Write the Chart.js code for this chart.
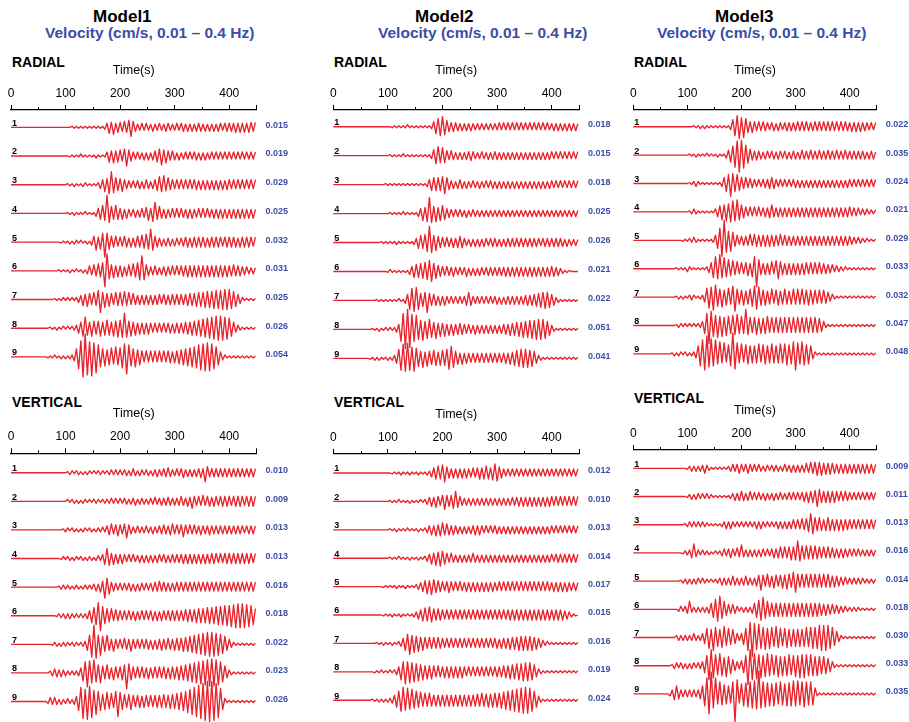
<!DOCTYPE html>
<html><head><meta charset="utf-8">
<script src="https://cdn.jsdelivr.net/npm/chart.js@4.4.1/dist/chart.umd.min.js"></script>
<style>
html,body{margin:0;padding:0;background:#fff;}
body{width:909px;height:722px;position:relative;overflow:hidden;font-family:"Liberation Sans",Arial,Helvetica,sans-serif;}
.t{position:absolute;white-space:nowrap;line-height:1;transform:translateY(-50%);}
.model{font-weight:bold;font-size:17px;color:#000;}
.vel{font-weight:bold;font-size:15.5px;color:#3b4ea6;}
.comp{font-weight:bold;font-size:14px;color:#000;}
canvas{position:absolute;display:block;}
</style></head><body>
<div class="t model" style="left:93px;top:16px">Model1</div>
<div class="t vel" style="left:45px;top:33px">Velocity (cm/s, 0.01 – 0.4 Hz)</div>
<div class="t model" style="left:415px;top:16px">Model2</div>
<div class="t vel" style="left:378px;top:33px">Velocity (cm/s, 0.01 – 0.4 Hz)</div>
<div class="t model" style="left:715px;top:16px">Model3</div>
<div class="t vel" style="left:657px;top:33px">Velocity (cm/s, 0.01 – 0.4 Hz)</div>
<div class="t comp" style="left:12px;top:61.5px">RADIAL</div>
<div class="t comp" style="left:334px;top:61.5px">RADIAL</div>
<div class="t comp" style="left:634px;top:61.5px">RADIAL</div>
<div class="t comp" style="left:12px;top:401.5px">VERTICAL</div>
<div class="t comp" style="left:334px;top:401.5px">VERTICAL</div>
<div class="t comp" style="left:634px;top:398px">VERTICAL</div>
<script>
// ---------------- DATA ----------------
// Seconds between successive waveform extrema
const STEP_S = 4;
// Trace numbers
const TRACE_LABELS = ['1','2','3','4','5','6','7','8','9'];
// Peak velocities printed at the right of each trace
const PEAKS_M1_RADIAL   = ['0.015','0.019','0.029','0.025','0.032','0.031','0.025','0.026','0.054'];
const PEAKS_M1_VERTICAL = ['0.010','0.009','0.013','0.013','0.016','0.018','0.022','0.023','0.026'];
const PEAKS_M2_RADIAL   = ['0.018','0.015','0.018','0.025','0.026','0.021','0.022','0.051','0.041'];
const PEAKS_M2_VERTICAL = ['0.012','0.010','0.013','0.014','0.017','0.015','0.016','0.019','0.024'];
const PEAKS_M3_RADIAL   = ['0.022','0.035','0.024','0.021','0.029','0.033','0.032','0.047','0.048'];
const PEAKS_M3_VERTICAL = ['0.009','0.011','0.013','0.016','0.014','0.018','0.030','0.033','0.035'];
// Waveform extrema magnitudes (base-36 digits, one every STEP_S seconds from t=0, alternating sign)
const WAVES_M1_RADIAL = [
 "0000000000000000000000000 0001111111111111112465745 5465796433434334334334433 3434434343444343434344344 4445454545545",
 "0000000000000000000000000 0011111211111121111465756 657a654343343434567967545 4343343434434343343434343 4343434343434",
 "0000000000000000000000000 011121112211111245769d876 6754434344345434568796755 4545454545545454545454545 5454545454545",
 "0000000000000000000000000 0111211112111135687i97686 5645434434546758b67545445 4545445454454545445454545 4545454545454",
 "0000000000000000000000011 112122121121368579f976564 54654545657687d8654434443 4434455455555554555555455 5555455555545",
 "0000000000000000000000111 112112112135465768gh86756 5645657689f96544543445445 4545556565656565656565656 5565554443333",
 "0000000000000000000011112 1212123465765769d78676576 7686756545454545455455455 5555556666777788889999aaa a987542111111",
 "0000000000000000001112112 121223568b768767867876879 89f9786756565654545454554 555556667778899aabbccccbb a864321111111",
 "0000000000000000011121121 212248cgknifjegca897897a8 9bdhc98a78656565656565665 66778899aabcddeeedca85321 1111111111111"
];
const WAVES_M1_VERTICAL = [
 "0000000000000000000000000 0122122121221212221223232 3233234323323323343344543 3434534343445496444444444 4444444444444",
 "0000000000000000000000000 0212212122121222122223232 3233233423332333433434443 4345435475454645545545555 5455555455555",
 "0000000000000000000000001 2212212122122122232456456 5468543343334334334454456 4545754545445444544444444 4444444344444",
 "0000000000000000000000012 122122122122212324 6a75645 4543434334343434344344344 4444545454545454555545455 5555555555545",
 "0000000000000000000000122 22212221222223435 6b975443 4343443434434344546454444 4545454545454545454545454 5454545454545",
 "0000000000000000000001222 32322222223578 9df98767565 5454544544545455454554555 555556666677777888899 99aa abbcccccbba97",
 "0000000000000000000122122 221222122369dje9b87965754 5465575454545545455655655 66667778899aabbccccbba986 5321111111111",
 "0000000000000000002344343 322222358becad98a76865765 678g976565655655656566566 667778899aabbccddeddcb975 3211111111111",
 "0000000000000000024343232 2322359ehcifgbda9789786af 9876786566566565666676677 78899abcdefghijkkkjigd831 1111111111111"
];
const WAVES_M2_RADIAL = [
 "0000000000000000000000000 0011111112111111111125789 a865454434343433333333333 3434343434343434343434343 3434343434343",
 "0000000000000000000000000 0111111211111111111136897 8754543434344543334334344 4343434343434343434343434 4343434343434",
 "0000000000000000000000001 1111111111111111112567676 8975443454343343343343443 4343434343434343434343434 4343434343434",
 "0000000000000000000000000 0111111211111135768g97867 8654434343343343333333333 3333333333333333333333333 3333333333333",
 "0000000000000000000000111 1111211111112467689ga7865 5454454565433434343443444 4343444444444444444434444 4444443433333",
 "0000000000000000000000000 1211111111356768798ba8765 5454454343453434344344444 4444545454545454545454545 5544321110000",
 "0000000000000000000011111 11111211369cbd9768c756545 4543434343458543434343434 4343444444444555566778887 6532111111111",
 "0000000000000000001112112 121235cgjkifcea9b89a87967 6756565565545445444444444 444555666777888999aaaa986 4211111111111",
 "0000000000000000011212111 212359cedfcbda87968768767 879bc97656555454545454545 4545556678899998875321111 1111111111111"
];
const WAVES_M2_VERTICAL = [
 "0000000000000000000000000 0011112111211121112245676 8965454545454454565676579 8654343434343434343434343 4343434343434",
 "0000000000000000000000000 0111121111211112123454654 686567a654343434343434343 4343434444545454545454545 5454545454545",
 "0000000000000000000000000 0111211112111121123454656 7565454434343445454343434 4343434343434343434343434 4343434343434",
 "0000000000000000000000000 0111121111211121123465768 7654543434343454343434343 4343434343434343434343434 4344444444444",
 "0000000000000000000000011 1111211121111234567687665 5456545454454545454545454 4545454545454545454545454 4545454544444",
 "0000000000000000000000011 1121112111112345676876565 5454545454545454545454545 4545455555555555555555555 5555554432110",
 "0000000000000000000011121 1121123579b89786765656565 5454545454545454545454545 5455556666777777766543221 1111111111111",
 "0000000000000000000111211 1212358acab9a897867676565 5656565656545454545454545 5556667778889999875321111 1111111111111",
 "0000000000000000001112121 223579bdac9b8978676765656 5656565656565656667667677 778899aabbccdddcb97421111 1111111111111"
];
const WAVES_M3_RADIAL = [
 "0000000000000000000000000 00011121211111111111379bc 9b86565454544344344344444 4545454445454545454545454 4545454443434",
 "0000000000000000000000000 0111211112111121113579ceh fda8654544344344344344344 4345444544454445444544454 4444444434443",
 "0000000000000000000000000 01123211111111113689da897 6564544343444565434343434 4343434343434343434343434 4343434343434",
 "0000000000000000000000000 01232111111113568798ab9c8 7654545454454675454545454 5454545454545454545454545 5444433332222",
 "0000000000000000000000011 122321111111258cgkc9b8654 4545656656565656556555454 5454545454545454545454545 4433332221111",
 "0000000000000000000011111 3211111112469cae9b8978675 656758ci965656758a7656565 6565665656565554443332221 1111111111111",
 "0000000000000000000012121 1232112259badc98a7897be87 786789bca8786786786787678 7878778777676765432111111 1111111111111",
 "0000000000000000000012212 121212248ciebac9b8a98a9b8 98g9878978789787878787878 7878787878776421111111111 1111111111111",
 "0000000000000000001212212 212248cegidfceac9b89clfb9 a89a8989a89a89a989a9ab9ac gbacb9a852111111111111111 1111111111111"
];
const WAVES_M3_VERTICAL = [
 "0000000000000000000000000 1232323353211111111234345 4345434343233233332343343 4343454656767565655454545 4545454545454",
 "0000000000000000000000000 1232332323221111111123434 5434534343343334334333434 3434546566a7656565654545 44343434343434",
 "0000000000000000000000001 2323232322111111234343232 3232323434323232343434345 4546567b97676567656565655 5454545454545",
 "0000000000000000000000012 2359432322211212343454354 8434343434434345456565676 7c87676767665656555454544 4343433333333",
 "0000000000000000000000122 3232332322121223434345434 3454343569657657656768769 b767676767676767656554443 3333333222222",
 "0000000000000000000002323 483232323246 8acd986545432 232324689bc98767676767676 7676767676766565554443332 2222211111111",
 "0000000000000000000023232 3234323469b8da98ab8978643 479dfjecdbac9ba9ba989a898 98989a9ababcdcdcba8642111 1111111111111",
 "0000000000000000001332332 323323347aegcb9ca8b986543 57ajgecdbcabcab9ab9a9ab9a bacbcbaba9a98987642111111 1111111111111",
 "0000000000000000024685434 34343458cgkmegacb9a89cse9 acbdcedfnecdbcacbacbacbcd cdbcdcbcb6211111111111111 1111111111111"
];

// ---------------- LAYOUT / STYLE ----------------
const F = '"Liberation Sans", Arial, Helvetica, sans-serif';
const RED = '#e8232b';
const BLUE = '#3b4ea6';
Chart.defaults.font.family = F;

const PANELS = [
  {waves: WAVES_M1_RADIAL,   peaks: PEAKS_M1_RADIAL,   x0: 11,    x1: 256.5, axisY: 110,   b1: 17.3, S: 28.7},
  {waves: WAVES_M1_VERTICAL, peaks: PEAKS_M1_VERTICAL, x0: 11,    x1: 256.5, axisY: 453.3, b1: 19.4, S: 28.6},
  {waves: WAVES_M2_RADIAL,   peaks: PEAKS_M2_RADIAL,   x0: 333.3, x1: 579,   axisY: 110,   b1: 16.7, S: 28.95},
  {waves: WAVES_M2_VERTICAL, peaks: PEAKS_M2_VERTICAL, x0: 333.3, x1: 579,   axisY: 454,   b1: 19.0, S: 28.4},
  {waves: WAVES_M3_RADIAL,   peaks: PEAKS_M3_RADIAL,   x0: 633.3, x1: 876.7, axisY: 110,   b1: 16.7, S: 28.4},
  {waves: WAVES_M3_VERTICAL, peaks: PEAKS_M3_VERTICAL, x0: 633.3, x1: 876.7, axisY: 450,   b1: 18.3, S: 28.2}
];

const minorTicks = {
  id: 'minorTicks',
  afterDraw(chart) {
    const xs = chart.scales.x, ctx = chart.ctx, y = chart.chartArea.top;
    ctx.save();
    ctx.strokeStyle = '#000'; ctx.lineWidth = 1;
    ctx.beginPath();
    for (let v = 50; v < 450; v += 100) {
      const px = Math.round(xs.getPixelForValue(v)) + 0.5;
      ctx.moveTo(px, y); ctx.lineTo(px, y - 3);
    }
    ctx.stroke();
    ctx.restore();
  }
};

function makePanel(p) {
  const mL = 14, mR = 32, mT = 58, mB = 40;
  const left = Math.floor(p.x0 - mL), top = Math.floor(p.axisY - mT);
  const w = Math.ceil(p.x1 - p.x0 + mL + mR);
  const h = Math.ceil(mT + p.b1 + 8 * p.S + mB);
  const cv = document.createElement('canvas');
  cv.width = w; cv.height = h;
  cv.style.left = left + 'px'; cv.style.top = top + 'px';
  cv.style.width = w + 'px'; cv.style.height = h + 'px';
  document.body.appendChild(cv);

  const base = k => -(p.b1 + k * p.S);
  const datasets = p.waves.map((s, k) => {
    const a = s.replace(/\s+/g, '');
    const data = [];
    for (let i = 0; i < a.length; i++) {
      const t = i * STEP_S;
      if (t > 450) break;
      const amp = parseInt(a[i], 36);
      data.push({x: t, y: base(k) + (i % 2 ? -amp : amp)});
    }
    return {data, borderColor: RED, borderWidth: 1.35, pointRadius: 0, tension: 0,
            borderJoinStyle: 'round', clip: false, yAxisID: 'y'};
  });
  const traceTicks = s => { s.ticks = p.waves.map((_, k) => ({value: base(k)})); };

  const chart = new Chart(cv, {
    type: 'line',
    data: {datasets},
    options: {
      responsive: false, maintainAspectRatio: false, animation: false, devicePixelRatio: 1,
      events: [], parsing: false, normalized: true,
      layout: {padding: {left: 0, right: 0, top: 0, bottom: 0}},
      plugins: {legend: {display: false}, tooltip: {enabled: false}, title: {display: false}},
      scales: {
        x: {
          type: 'linear', position: 'top', min: 0, max: 450,
          title: {display: true, text: 'Time(s)', color: '#000', font: {size: 12.5, family: F}, padding: {top: 0, bottom: 5}},
          ticks: {stepSize: 50, autoSkip: false, maxRotation: 0, minRotation: 0, padding: 4, color: '#000',
                  font: {size: 12, family: F},
                  callback: v => (v % 100 === 0 && v < 450) ? String(v) : ''},
          grid: {drawOnChartArea: false, drawTicks: true, tickLength: 5, tickWidth: 1,
                 tickColor: c => (c.tick && (c.tick.value % 100 === 0 || c.tick.value === 450)) ? '#000' : 'rgba(0,0,0,0)'},
          border: {display: true, color: '#000', width: 1.2}
        },
        y: {
          type: 'linear', position: 'left', min: -300, max: 0,
          afterBuildTicks: traceTicks,
          ticks: {mirror: true, padding: 1, labelOffset: -4, autoSkip: false, color: '#000',
                  font: {size: 9, weight: 'bold', family: F}, callback: (v, i) => TRACE_LABELS[i]},
          grid: {display: false}, border: {display: false}
        },
        y2: {
          type: 'linear', position: 'right', min: -300, max: 0,
          afterBuildTicks: traceTicks,
          ticks: {padding: 1, labelOffset: -2, autoSkip: false, color: BLUE,
                  font: {size: 9, weight: 'bold', family: F}, callback: (v, i) => p.peaks[i]},
          grid: {display: false}, border: {display: false}
        }
      }
    },
    plugins: [minorTicks]
  });

  // align the plotting area with the reference geometry
  let pad = {left: 0, right: 0, top: 0, bottom: 0};
  for (let it = 0; it < 4; it++) {
    const ca = chart.chartArea;
    const wantL = p.x0 - left, wantR = p.x1 - left, wantT = p.axisY - top;
    pad = {left: pad.left + (wantL - ca.left), right: pad.right + (ca.right - wantR),
           top: pad.top + (wantT - ca.top), bottom: 0};
    chart.options.layout.padding = pad;
    const H = ca.bottom - ca.top;
    chart.options.scales.y.min = -H;
    chart.options.scales.y2.min = -H;
    chart.update('none');
  }
  const ca = chart.chartArea;
  chart.options.scales.y.min = -(ca.bottom - ca.top);
  chart.options.scales.y2.min = -(ca.bottom - ca.top);
  chart.update('none');
}

PANELS.forEach(makePanel);
</script>
</body></html>
